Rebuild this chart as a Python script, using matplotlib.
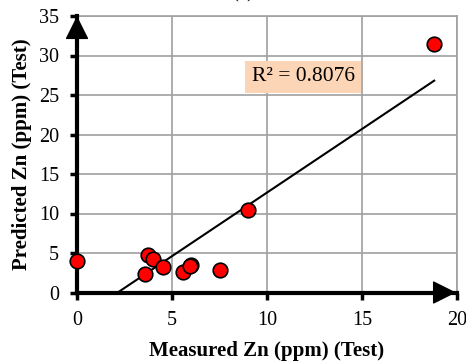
import numpy as np
import matplotlib.pyplot as plt

plt.rcParams['font.family'] = ['Liberation Serif', 'DejaVu Serif']

# measured vs predicted Zn (ppm), test set
measured = [0.0, 3.75, 4.0, 3.6, 4.5, 5.6, 6.0, 5.95, 7.5, 9.0, 18.8]
predicted = [3.95, 4.8, 4.2, 2.3, 3.2, 2.6, 3.5, 3.3, 2.9, 10.4, 31.5]
r2_label = 'R² = 0.8076'

xticks = [0, 5, 10, 15, 20]
yticks = [0, 5, 10, 15, 20, 25, 30, 35]

fig = plt.figure(figsize=(4.66, 3.61), dpi=100)
ax = fig.add_axes([77 / 466, (361 - 292.5) / 361, 380 / 466, 276.5 / 361])
ax.set_xlim(0, 20)
ax.set_ylim(0, 35)
ax.set_xticks(xticks)
ax.set_yticks(yticks)
ax.grid(True, color='#a0a0a0', lw=1.2)
ax.set_axisbelow(True)

for s in ['top', 'right']:
    ax.spines[s].set_color('#a0a0a0')
    ax.spines[s].set_linewidth(1.2)
for s in ['left', 'bottom']:
    ax.spines[s].set_linewidth(3)
    ax.spines[s].set_zorder(4)

ax.tick_params(axis='both', labelsize=14.5, width=2.5, length=5, direction='out')
ax.tick_params(axis='y', pad=8)
ax.tick_params(axis='x', pad=8)

# linear trendline
m, b = np.polyfit(measured, predicted, 1)
xl = np.array([0, max(measured)])
ax.plot(xl, m * xl + b, color='black', lw=1.5, zorder=3)

ax.scatter(measured, predicted, s=110, color='red', edgecolor='black', lw=1.2, zorder=5, clip_on=False)

# arrow heads at the ends of the axes
head = '-|>,head_length=0.6,head_width=0.3'
ax.annotate('', xy=(0, 35), xytext=(0, 30), xycoords='data',
            arrowprops=dict(arrowstyle=head, color='black', lw=1, mutation_scale=25, shrinkA=0, shrinkB=0),
            annotation_clip=False, zorder=6)
ax.annotate('', xy=(19.95, 0), xytext=(17, 0), xycoords='data',
            arrowprops=dict(arrowstyle=head, color='black', lw=1, mutation_scale=25, shrinkA=0, shrinkB=0),
            annotation_clip=False, zorder=6)

ax.text(11.9, 27.3, r2_label, fontsize=15.5, ha='center', va='center',
        bbox=dict(boxstyle='square,pad=0.3', facecolor='#fbd5b5', edgecolor='none'), zorder=6)

ax.set_xlabel('Measured Zn (ppm) (Test)', fontsize=15, fontweight='bold', labelpad=8)
ax.set_ylabel('Predicted Zn (ppm) (Test)', fontsize=15, fontweight='bold', labelpad=5)

fig.text(243 / 466, 1 - 2 / 361, '(c)', fontsize=15, ha='center', va='bottom')

fig.savefig('out.png', dpi=100)
